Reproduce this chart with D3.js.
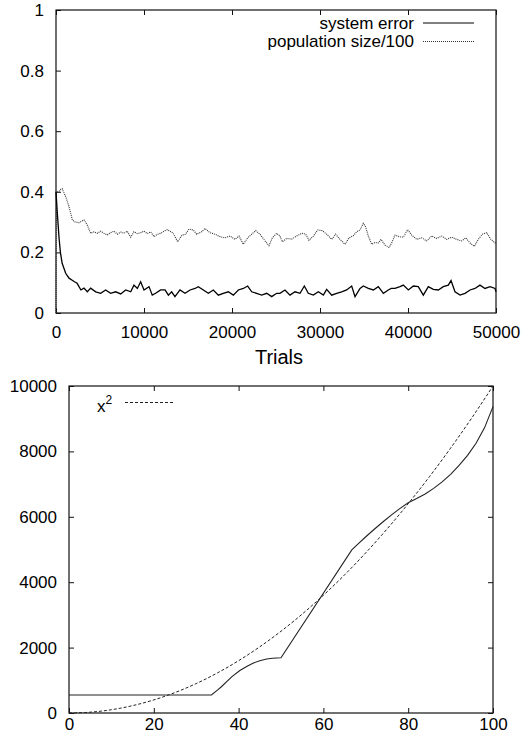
<!DOCTYPE html>
<html>
<head>
<meta charset="utf-8">
<script src="https://cdn.jsdelivr.net/npm/d3@7"></script>
<style>
	body { margin: 0; background: #fff; }
	svg { display: block; }
	text { font-family: 'Liberation Sans', Arial, Helvetica, sans-serif; fill: #000; }
</style>
</head>
<body>
<svg id="chart" width="522" height="744"></svg>
<script>
// top panel: [trials, value]
const sysError = [
	[0, 0.40], [150, 0.33], [340, 0.25], [500, 0.20], [700, 0.164], [1100, 0.131], [1480, 0.115], [1800, 0.109],
	[2100, 0.103], [2400, 0.098], [2830, 0.076], [3180, 0.082], [3560, 0.070], [3940, 0.082], [4510, 0.070],
	[5080, 0.065], [5640, 0.076], [6210, 0.065], [6780, 0.070], [7350, 0.063], [7920, 0.076], [8490, 0.070],
	[8860, 0.092], [9240, 0.081], [9620, 0.103], [10000, 0.076], [10570, 0.087], [10940, 0.059], [11320, 0.065],
	[11890, 0.076], [12390, 0.076], [12770, 0.059], [13140, 0.070], [13520, 0.054], [14090, 0.076], [14660, 0.065],
	[15230, 0.076], [15800, 0.081], [16170, 0.087], [16740, 0.076], [17310, 0.065], [17880, 0.076], [18450, 0.059],
	[19010, 0.065], [19580, 0.070], [20150, 0.059], [20720, 0.076], [21290, 0.081], [21780, 0.089], [22240, 0.070],
	[22800, 0.065], [23370, 0.059], [23940, 0.065], [24510, 0.054], [25080, 0.065], [25450, 0.065], [26020, 0.076],
	[26590, 0.059], [27160, 0.070], [27730, 0.065], [28220, 0.089], [28670, 0.065], [29240, 0.059], [29810, 0.070],
	[30380, 0.059], [30760, 0.078], [31330, 0.059], [31890, 0.065], [32460, 0.070], [33030, 0.076], [33600, 0.089],
	[33980, 0.054], [34550, 0.081], [34920, 0.089], [35490, 0.081], [36060, 0.076], [36630, 0.087], [37200, 0.065],
	[37760, 0.076], [38100, 0.081], [38520, 0.081], [39090, 0.087], [39470, 0.092], [40040, 0.076], [40610, 0.089],
	[41170, 0.087], [41740, 0.059], [42310, 0.087], [42880, 0.078], [43450, 0.076], [44010, 0.087], [44580, 0.092],
	[44890, 0.107], [45340, 0.070], [45910, 0.059], [46480, 0.065], [47050, 0.076], [47610, 0.081], [48180, 0.092],
	[48750, 0.081], [49320, 0.087], [49890, 0.081], [50000, 0.070]
];

const popSize = [
	[0, 0.0], [40, 0.40], [300, 0.40], [530, 0.408], [700, 0.41], [1100, 0.384], [1480, 0.351], [1860, 0.307],
	[2120, 0.301], [2610, 0.298], [3180, 0.307], [3560, 0.29], [3940, 0.263], [4320, 0.268], [4700, 0.263],
	[5080, 0.27], [5450, 0.263], [5830, 0.258], [6200, 0.265], [6580, 0.27], [6970, 0.26], [7350, 0.267],
	[7730, 0.263], [8100, 0.27], [8490, 0.25], [8860, 0.268], [9240, 0.262], [9620, 0.265], [10000, 0.27],
	[10380, 0.262], [10760, 0.268], [11140, 0.252], [11520, 0.26], [11900, 0.263], [12270, 0.27], [12650, 0.275],
	[12950, 0.27], [13330, 0.263], [13830, 0.235], [14280, 0.256], [14730, 0.26], [15110, 0.277], [15600, 0.274],
	[15980, 0.26], [16550, 0.268], [16930, 0.279], [17500, 0.265], [18070, 0.26], [18640, 0.252], [19200, 0.248],
	[19770, 0.254], [20340, 0.243], [20800, 0.254], [21280, 0.227], [21780, 0.248], [22240, 0.26], [22690, 0.272],
	[23180, 0.26], [23750, 0.238], [24200, 0.222], [24580, 0.248], [25080, 0.263], [25450, 0.254], [25720, 0.235],
	[26210, 0.246], [26780, 0.244], [27350, 0.254], [27920, 0.263], [28370, 0.26], [28750, 0.24], [29240, 0.254],
	[29740, 0.274], [30260, 0.272], [30760, 0.26], [31330, 0.243], [31780, 0.26], [32270, 0.243], [32840, 0.227],
	[33300, 0.248], [33780, 0.255], [34170, 0.268], [34550, 0.274], [34920, 0.296], [35190, 0.284], [35490, 0.254],
	[35870, 0.227], [36250, 0.233], [36630, 0.231], [36930, 0.243], [37390, 0.224], [37840, 0.216], [38140, 0.231],
	[38520, 0.257], [38980, 0.252], [39470, 0.25], [39960, 0.275], [40420, 0.257], [40990, 0.243], [41560, 0.248],
	[42120, 0.238], [42690, 0.254], [43260, 0.246], [43830, 0.254], [44400, 0.243], [44960, 0.25], [45530, 0.243],
	[46100, 0.238], [46560, 0.248], [47050, 0.231], [47540, 0.22], [47990, 0.243], [48450, 0.26], [48940, 0.265],
	[49430, 0.243], [49890, 0.231], [50000, 0.235]
];

const topXTicks = [0, 10000, 20000, 30000, 40000, 50000];
const topYTicks = [0, 0.2, 0.4, 0.6, 0.8, 1];
const topLegend = ['system error', 'population size/100'];

// bottom panel: [x, y]
const approxCurve = [
	[0, 550], [33.6, 550], [35, 700], [36, 810], [37.2, 960], [38.5, 1120], [40.3, 1300], [42, 1430], [43.5, 1530],
	[45, 1600], [46.6, 1650], [48, 1675], [50, 1690], [66.7, 4990], [68, 5150], [70, 5390], [72, 5620],
	[74, 5840], [76, 6050], [78, 6250], [80, 6430], [82, 6560], [84, 6700], [86, 6870], [88, 7070],
	[90, 7300], [92, 7570], [94, 7880], [96, 8250], [98, 8720], [100, 9370]
];

const squareCurve = [
	[0, 0], [5, 25], [10, 100], [15, 225], [20, 400], [25, 625], [30, 900], [35, 1225], [40, 1600], [45, 2025],
	[50, 2500], [55, 3025], [60, 3600], [65, 4225], [70, 4900], [75, 5625], [80, 6400], [85, 7225], [90, 8100],
	[95, 9025], [100, 10000]
];

const botXTicks = [0, 20, 40, 60, 80, 100];
const botYTicks = [0, 2000, 4000, 6000, 8000, 10000];

const svg = d3.select('#chart');

function frame(g, x, y) {
	g.append('rect')
		.attr('x', x.range()[0])
		.attr('y', y.range()[1])
		.attr('width', x.range()[1] - x.range()[0])
		.attr('height', y.range()[0] - y.range()[1])
		.attr('fill', 'none')
		.attr('stroke', '#111')
		.attr('stroke-width', 1.2);
}

function cleanAxis(g) {
	g.select('.domain').remove();
	g.selectAll('.tick line').attr('stroke', '#111').attr('stroke-width', 1);
	g.selectAll('.tick text').style('font-size', '17px');
}

// ---- top panel
var x1 = d3.scaleLinear().domain([0, 50000]).range([56, 496]);
var y1 = d3.scaleLinear().domain([0, 1]).range([313, 10]);

var upper = svg.append('g').attr('class', 'upper');

upper.append('g')
	.attr('transform', 'translate(0,' + y1(0) + ')')
	.call(d3.axisBottom(x1).tickValues(topXTicks).tickFormat(d3.format('d')).tickSizeInner(-5).tickSizeOuter(0).tickPadding(13))
	.call(cleanAxis);

upper.append('g')
	.attr('transform', 'translate(0,' + y1(1) + ')')
	.call(d3.axisTop(x1).tickValues(topXTicks).tickFormat('').tickSizeInner(-5).tickSizeOuter(0))
	.call(cleanAxis);

upper.append('g')
	.attr('transform', 'translate(' + x1(0) + ',0)')
	.call(d3.axisLeft(y1).tickValues(topYTicks).tickFormat(d3.format('~g')).tickSizeInner(-5).tickSizeOuter(0).tickPadding(12))
	.call(cleanAxis);

frame(upper, x1, y1);

upper.append('text')
	.attr('x', 279)
	.attr('y', 364)
	.attr('text-anchor', 'middle')
	.style('font-size', '20px')
	.text('Trials');

var line1 = d3.line().x(d => x1(d[0])).y(d => y1(d[1]));

upper.append('path')
	.datum(popSize)
	.attr('d', line1)
	.attr('fill', 'none')
	.attr('stroke', '#333')
	.attr('stroke-width', 1.1)
	.attr('stroke-dasharray', '1,1');

upper.append('path')
	.datum(sysError)
	.attr('d', line1)
	.attr('fill', 'none')
	.attr('stroke', '#000')
	.attr('stroke-width', 1.3);

// legend
var lg = upper.append('g').attr('class', 'legend');
topLegend.forEach((label, i) => {
	var ly = 23 + i * 18.5;
	lg.append('text')
		.attr('x', 414)
		.attr('y', ly + 5.5)
		.attr('text-anchor', 'end')
		.style('font-size', '17px')
		.text(label);
	lg.append('line')
		.attr('x1', 423).attr('x2', 474)
		.attr('y1', ly).attr('y2', ly)
		.attr('stroke', i === 0 ? '#000' : '#333')
		.attr('stroke-width', 1)
		.attr('stroke-dasharray', i === 0 ? null : '1,1');
});

// ---- bottom panel
var x2 = d3.scaleLinear().domain([0, 100]).range([69, 493]);
var y2 = d3.scaleLinear().domain([0, 10000]).range([713, 386]);

var lower = svg.append('g').attr('class', 'lower');

lower.append('g')
	.attr('transform', 'translate(0,' + y2(0) + ')')
	.call(d3.axisBottom(x2).tickValues(botXTicks).tickFormat(d3.format('d')).tickSizeInner(-5).tickSizeOuter(0).tickPadding(5))
	.call(cleanAxis);

lower.append('g')
	.attr('transform', 'translate(0,' + y2(10000) + ')')
	.call(d3.axisTop(x2).tickValues(botXTicks).tickFormat('').tickSizeInner(-5).tickSizeOuter(0))
	.call(cleanAxis);

lower.append('g')
	.attr('transform', 'translate(' + x2(0) + ',0)')
	.call(d3.axisLeft(y2).tickValues(botYTicks).tickFormat(d3.format('d')).tickSizeInner(-5).tickSizeOuter(0).tickPadding(12))
	.call(cleanAxis);

lower.append('g')
	.attr('transform', 'translate(' + x2(100) + ',0)')
	.call(d3.axisRight(y2).tickValues(botYTicks).tickFormat('').tickSizeInner(-5).tickSizeOuter(0))
	.call(cleanAxis);

frame(lower, x2, y2);

var line2 = d3.line().x(d => x2(d[0])).y(d => y2(d[1]));

lower.append('path')
	.datum(squareCurve)
	.attr('d', line2.curve(d3.curveMonotoneX))
	.attr('fill', 'none')
	.attr('stroke', '#222')
	.attr('stroke-width', 1)
	.attr('stroke-dasharray', '3,2');

lower.append('path')
	.datum(approxCurve)
	.attr('d', line2.curve(d3.curveLinear))
	.attr('fill', 'none')
	.attr('stroke', '#222')
	.attr('stroke-width', 1.1);

// x^2 legend
var lg2 = lower.append('g').attr('class', 'legend');
var lt = lg2.append('text').attr('x', 97).attr('y', 411.5).style('font-size', '17px');
lt.append('tspan').text('x');
lt.append('tspan').attr('dy', -8).style('font-size', '12px').text('2');
lg2.append('line')
	.attr('x1', 125).attr('x2', 174)
	.attr('y1', 402.5).attr('y2', 402.5)
	.attr('stroke', '#222')
	.attr('stroke-width', 1)
	.attr('stroke-dasharray', '3,2');
</script>
</body>
</html>
